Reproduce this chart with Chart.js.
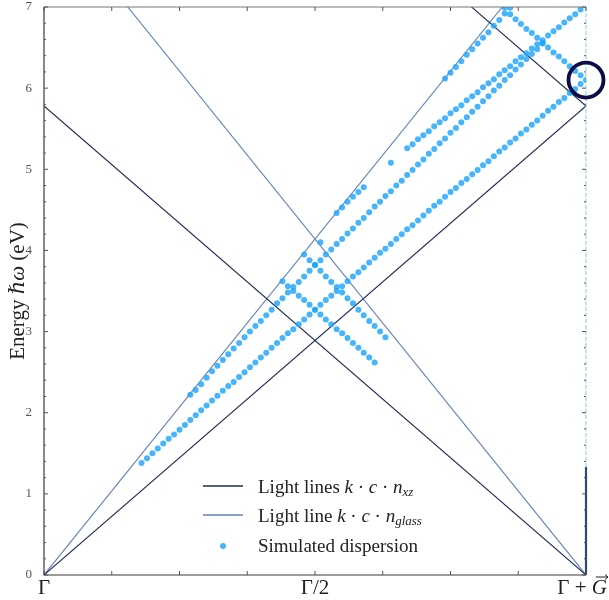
<!DOCTYPE html>
<html>
<head>
<meta charset="utf-8">
<script src="https://cdn.jsdelivr.net/npm/chart.js@4.4.1/dist/chart.umd.min.js"></script>
<style>
  html, body { margin: 0; padding: 0; background: #fff; }
  canvas { display: block; }
</style>
</head>
<body>
<canvas id="dispersion" width="609" height="600"></canvas>
<script>
const SERIF = '"Liberation Serif", "DejaVu Serif", serif';

// k grid of the simulation (units of G)
const kStep = 0.01;

// lowest guided band, k = 0.18 ... 1.00
const bandLowE = [
  1.38, 1.44, 1.50, 1.56, 1.62, 1.68, 1.73, 1.79, 1.85, 1.91,
  1.97, 2.03, 2.09, 2.15, 2.21, 2.27, 2.33, 2.38, 2.44, 2.50,
  2.56, 2.62, 2.68, 2.74, 2.80, 2.86, 2.92, 2.98, 3.03, 3.09,
  3.15, 3.21, 3.27, 3.33, 3.39, 3.44, 3.50, 3.56, 3.62, 3.68,
  3.73, 3.79, 3.85, 3.91, 3.97, 4.02, 4.08, 4.14, 4.20, 4.26,
  4.31, 4.37, 4.43, 4.49, 4.55, 4.60, 4.66, 4.72, 4.77, 4.83,
  4.88, 4.94, 4.99, 5.05, 5.10, 5.16, 5.22, 5.27, 5.33, 5.38,
  5.44, 5.49, 5.55, 5.60, 5.66, 5.72, 5.77, 5.83, 5.88, 5.94,
  5.99, 6.05, 6.10
];
// same band folded back from -G, k = 0.44 ... 0.61
const bandLowFoldE = [
  3.62, 3.56, 3.50, 3.44, 3.39, 3.33, 3.27, 3.21, 3.15, 3.09,
  3.03, 2.98, 2.92, 2.86, 2.80, 2.74, 2.68, 2.62
];
// same band folded at the zone edge, k = 0.85 ... 0.99
const bandLowEdgeFoldE = [
  6.99, 6.91, 6.85, 6.79, 6.73, 6.68, 6.62, 6.56, 6.50, 6.44,
  6.39, 6.33, 6.27, 6.21, 6.16
];
// second band, k = 0.27 ... 0.92
const band2E = [
  2.22, 2.28, 2.35, 2.43, 2.51, 2.58, 2.65, 2.72, 2.79, 2.86,
  2.93, 3.00, 3.07, 3.13, 3.20, 3.27, 3.35, 3.41, 3.48, 3.55,
  3.61, 3.68, 3.75, 3.82, 3.88, 3.95, 4.01, 4.08, 4.14, 4.21,
  4.27, 4.34, 4.40, 4.47, 4.54, 4.60, 4.67, 4.73, 4.80, 4.86,
  4.93, 4.99, 5.06, 5.12, 5.19, 5.25, 5.32, 5.38, 5.45, 5.51,
  5.58, 5.64, 5.71, 5.77, 5.84, 5.90, 5.97, 6.03, 6.10, 6.16,
  6.23, 6.29, 6.36, 6.42, 6.48, 6.55
];
// second band folded, k = 0.48 ... 0.63
const band2FoldE = [
  3.95, 3.88, 3.82, 3.75, 3.68, 3.61, 3.55, 3.48, 3.41, 3.35,
  3.27, 3.20, 3.13, 3.07, 3.00, 2.93
];
// third band, found only at some k
const band3K0 = [0.51, 0.54, 0.64, 0.67];
const band3E = [
  [4.10],
  [4.46, 4.53, 4.60, 4.66, 4.72, 4.78],
  [5.08],
  [5.26, 5.31, 5.37, 5.42, 5.47, 5.53, 5.58, 5.63, 5.69, 5.74,
   5.79, 5.85, 5.90, 5.95, 6.01, 6.06, 6.11, 6.17, 6.22, 6.27,
   6.33, 6.38, 6.43, 6.49, 6.54, 6.59, 6.65, 6.70, 6.75, 6.81,
   6.86, 6.91, 6.97]
];
// fourth band, k = 0.74 ... 0.86
const band4E = [6.12, 6.19, 6.26, 6.33, 6.41, 6.48, 6.55, 6.62, 6.69, 6.77, 6.84, 6.92, 6.99];

// light line energies reached at k = G
const nxzEdgeE = 5.78;
const glassEdgeE = 8.28;

// vertical marker at Γ+G: solid part up to edgeSplitE, dashed above
const edgeSplitE = 1.33;
const highlightPt = [{ x: 1.0, y: 6.1 }];

const yMaxE = 7;
const yTicks = [0, 1, 2, 3, 4, 5, 6, 7];
const xTickPos = [0, 0.5, 1];
const xTickLabels = ['Γ', 'Γ/2', 'Γ + G'];

const NAVY = '#1e2b52';
const GLASS = '#6683bb';
const DOT = 'rgba(30,165,250,0.82)';

function branch(k0, energies) {
  return energies.map((e, i) => ({ x: Math.round((k0 + i * kStep) * 100) / 100, y: e }));
}

const dispersionPts = [].concat(
  branch(0.18, bandLowE),
  branch(0.44, bandLowFoldE),
  branch(0.85, bandLowEdgeFoldE),
  branch(0.27, band2E),
  branch(0.48, band2FoldE),
  ...band3K0.map((k0, i) => branch(k0, band3E[i])),
  branch(0.74, band4E)
);

function lightLine(points, color) {
  return {
    data: points,
    showLine: true,
    borderColor: color,
    borderWidth: 1.1,
    pointRadius: 0,
    order: 3
  };
}

// draws a row of text pieces with their own fonts
function drawRuns(ctx, runs, x, y, align) {
  let total = 0;
  runs.forEach(r => { ctx.font = r.font; r.w = ctx.measureText(r.text).width; total += r.w; });
  let cx = x;
  if (align === 'center') cx = x - total / 2;
  if (align === 'right') cx = x - total;
  runs.forEach(r => {
    ctx.font = r.font;
    ctx.fillText(r.text, cx, y + (r.dy || 0));
    r.x = cx;
    cx += r.w;
  });
  return runs;
}

const up = s => s + 'px ' + SERIF;
const it = s => 'italic ' + s + 'px ' + SERIF;

const decorations = {
  id: 'decorations',
  afterDatasetsDraw(chart) {
    const { ctx, chartArea: a, scales: { x, y } } = chart;
    ctx.save();
    ctx.strokeStyle = '#3a3a3a';
    ctx.lineWidth = 1.2;
    ctx.beginPath();
    ctx.moveTo(a.left, a.top);
    ctx.lineTo(a.left, a.bottom);
    ctx.lineTo(a.right, a.bottom);
    ctx.stroke();
    ctx.strokeStyle = '#777';
    ctx.beginPath();
    ctx.moveTo(a.left, a.top);
    ctx.lineTo(a.right, a.top);
    ctx.stroke();

    // inward ticks on all sides
    ctx.strokeStyle = '#555';
    ctx.lineWidth = 1;
    ctx.beginPath();
    for (let i = 0; i <= 8; i++) {
      const px = x.getPixelForValue(i / 8);
      ctx.moveTo(px, a.bottom); ctx.lineTo(px, a.bottom - 4);
      ctx.moveTo(px, a.top); ctx.lineTo(px, a.top + 4);
    }
    for (let i = 0; i <= yMaxE * 5; i++) {
      const py = y.getPixelForValue(i / 5);
      const len = i % 5 === 0 ? 4 : 2;
      ctx.moveTo(a.left, py); ctx.lineTo(a.left + len, py);
      ctx.moveTo(a.right, py); ctx.lineTo(a.right - len, py);
    }
    ctx.stroke();
    ctx.restore();
  },
  afterDraw(chart) {
    const { ctx, chartArea: a, scales: { x } } = chart;
    ctx.save();
    ctx.fillStyle = '#222';
    ctx.textBaseline = 'alphabetic';

    // x tick labels; the last one is kept inside the canvas
    xTickPos.forEach((v, i) => {
      const px = x.getPixelForValue(v);
      if (i === 2) {
        const runs = drawRuns(ctx, [
          { text: 'Γ + ', font: up(21) },
          { text: 'G', font: it(21) }
        ], chart.width - 2, a.bottom + 19, 'right');
        // vector arrow over G
        const g = runs[1];
        const ay = a.bottom + 2;
        ctx.strokeStyle = '#222';
        ctx.lineWidth = 1;
        ctx.beginPath();
        ctx.moveTo(g.x + 4, ay); ctx.lineTo(g.x + g.w + 1, ay);
        ctx.moveTo(g.x + g.w - 2, ay - 2.5); ctx.lineTo(g.x + g.w + 1, ay); ctx.lineTo(g.x + g.w - 2, ay + 2.5);
        ctx.stroke();
      } else {
        drawRuns(ctx, [{ text: xTickLabels[i], font: up(21) }], px, a.bottom + 19, 'center');
      }
    });

    // y axis title
    ctx.save();
    ctx.translate(18, (a.top + a.bottom) / 2);
    ctx.rotate(-Math.PI / 2);
    ctx.textBaseline = 'middle';
    drawRuns(ctx, [
      { text: 'Energy ', font: up(21) },
      { text: 'ℏω', font: it(21) },
      { text: ' (eV)', font: up(21) }
    ], 0, 0, 'center');
    ctx.restore();

    // legend
    const lx = 203, tx = 258, rows = [493, 522, 552];
    ctx.lineWidth = 1.3;
    ctx.strokeStyle = NAVY;
    ctx.beginPath(); ctx.moveTo(lx, rows[0] - 7); ctx.lineTo(lx + 40, rows[0] - 7); ctx.stroke();
    ctx.strokeStyle = GLASS;
    ctx.beginPath(); ctx.moveTo(lx, rows[1] - 7); ctx.lineTo(lx + 40, rows[1] - 7); ctx.stroke();
    ctx.fillStyle = DOT;
    ctx.beginPath(); ctx.arc(lx + 20, rows[2] - 6, 3, 0, Math.PI * 2); ctx.fill();

    ctx.fillStyle = '#222';
    const math = sub => [
      { text: 'k', font: it(19) },
      { text: ' · ', font: up(19) },
      { text: 'c', font: it(19) },
      { text: ' · ', font: up(19) },
      { text: 'n', font: it(19) },
      { text: sub, font: it(13), dy: 3 }
    ];
    drawRuns(ctx, [{ text: 'Light lines ', font: up(19) }].concat(math('xz')), tx, rows[0]);
    drawRuns(ctx, [{ text: 'Light line ', font: up(19) }].concat(math('glass')), tx, rows[1]);
    drawRuns(ctx, [{ text: 'Simulated dispersion', font: up(19) }], tx, rows[2]);
    ctx.restore();
  }
};

new Chart(document.getElementById('dispersion'), {
  type: 'scatter',
  data: {
    datasets: [
      {
        data: highlightPt,
        pointRadius: 17.5,
        pointBorderWidth: 3.8,
        pointBorderColor: '#0c0c48',
        pointBackgroundColor: 'rgba(0,0,0,0)',
        clip: false,
        order: 0
      },
      {
        data: dispersionPts,
        pointRadius: 3,
        pointBorderWidth: 0,
        pointBackgroundColor: DOT,
        order: 1
      },
      {
        data: [{ x: 1, y: 0 }, { x: 1, y: edgeSplitE }],
        showLine: true,
        borderColor: '#2d4a6e',
        borderWidth: 2.2,
        pointRadius: 0,
        clip: 4,
        order: 2
      },
      {
        data: [{ x: 1, y: edgeSplitE }, { x: 1, y: yMaxE }],
        showLine: true,
        borderColor: '#86ccee',
        borderWidth: 1,
        borderDash: [4, 2],
        pointRadius: 0,
        clip: 4,
        order: 2
      },
      lightLine([{ x: 0, y: 0 }, { x: 1, y: nxzEdgeE }], NAVY),
      lightLine([{ x: 0, y: nxzEdgeE }, { x: 1, y: 0 }], NAVY),
      lightLine([{ x: 1, y: nxzEdgeE }, { x: 0, y: 2 * nxzEdgeE }], NAVY),
      lightLine([{ x: 0, y: 0 }, { x: 1, y: glassEdgeE }], GLASS),
      lightLine([{ x: 0, y: glassEdgeE }, { x: 1, y: 0 }], GLASS)
    ]
  },
  options: {
    responsive: false,
    animation: false,
    layout: { autoPadding: false, padding: { top: 7, right: 23, left: 0, bottom: 0 } },
    plugins: { legend: { display: false }, tooltip: { enabled: false } },
    scales: {
      x: {
        type: 'linear',
        min: 0,
        max: 1,
        grid: { display: false },
        border: { display: false },
        ticks: { display: false },
        afterFit: s => { s.height = 25; }
      },
      y: {
        type: 'linear',
        min: 0,
        max: yMaxE,
        grid: { display: false },
        border: { display: false },
        afterBuildTicks: s => { s.ticks = yTicks.map(v => ({ value: v })); },
        ticks: {
          padding: 4,
          color: '#555',
          font: { family: SERIF, size: 13 }
        },
        afterFit: s => { s.width = 44; s.paddingTop = 0; s.paddingBottom = 0; }
      }
    }
  },
  plugins: [decorations]
});
</script>
</body>
</html>
